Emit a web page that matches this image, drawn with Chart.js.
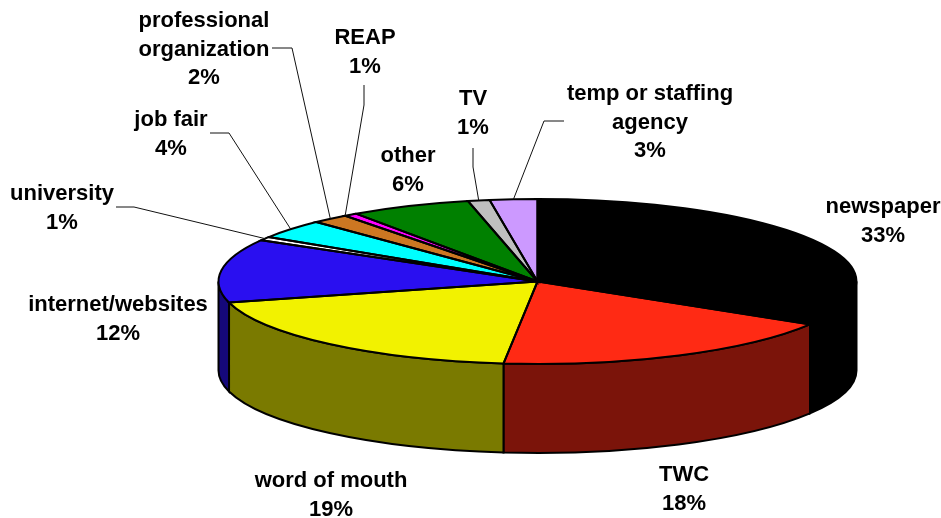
<!DOCTYPE html>
<html>
<head>
<meta charset="utf-8">
<title>Job sources</title>
<script src="https://cdn.jsdelivr.net/npm/chart.js@4/dist/chart.umd.min.js"></script>
<style>
    html, body { margin: 0; padding: 0; background: #fff; }
    canvas { display: block; }
</style>
</head>
<body>
<canvas id="pieChart" width="941" height="518"></canvas>
<script>
const categories = ['newspaper', 'TWC', 'word of mouth', 'internet/websites', 'university', 'job fair', 'professional organization', 'REAP', 'other', 'TV', 'temp or staffing agency'];
// slice sizes, the printed percentages are rounded
const sliceValues = [33.7, 18.0, 19.2, 12.45, 0.7, 3.75, 1.9, 0.66, 6.14, 1.1, 2.4];
const percentLabels = ['33%', '18%', '19%', '12%', '1%', '4%', '2%', '1%', '6%', '1%', '3%'];

const topColors = ['#000000', '#ff2a14', '#f2f200', '#2a0ff0', '#ffffff', '#00ffff', '#cc7722', '#ff00ff', '#008000', '#bfbfbf', '#cc99ff'];
const wallColors = ['#000000', '#7b140a', '#7a7a00', '#15087a', '#7f7f7f', '#007f7f', '#663b11', '#7f007f', '#004000', '#5f5f5f', '#664c7f'];

// layout of the label text, one entry per category
const labelLines = [['newspaper'], ['TWC'], ['word of mouth'], ['internet/websites'], ['university'], ['job fair'], ['professional', 'organization'], ['REAP'], ['other'], ['TV'], ['temp or staffing', 'agency']];
const labelCenterX = [883, 684, 331, 118, 62, 171, 204, 365, 408, 473, 650];
const labelFirstY = [207, 475, 481, 305, 194, 120, 21, 38, 156, 99, 94];

// leader lines: elbow points, the end on the pie comes from the slice itself
// (share = how far along the slice's edge the line lands)
const leaders = {
    4: { points: [[116, 207], [134, 207]], share: 0.5 },
    5: { points: [[210, 133], [229, 133]], share: 0.5 },
    6: { points: [[272, 48], [292, 48]], share: 0.5 },
    7: { points: [[364, 85], [364, 105]], share: 0 },
    9: { points: [[473, 148], [473, 167]], share: 0.5 },
    10: { points: [[564, 121], [544, 121]], share: 0.5 }
};

const centerX = 537.5;
const centerY = 281.5;
const radiusX = 319;
const radiusY = 82.5;
const depth = 89;
const outline = 2;
const lineHeight = 28.7;

function sliceOutline(ctx, arc) {
    ctx.beginPath();
    ctx.moveTo(centerX, centerY);
    ctx.ellipse(centerX, centerY, radiusX, radiusY, 0, arc.startAngle, arc.endAngle);
    ctx.closePath();
    ctx.stroke();
}

const tiltedPie = {
    id: 'tiltedPie',
    beforeDatasetsDraw(chart) {
        const ctx = chart.ctx;
        const arcs = chart.getDatasetMeta(0).data;

        // side wall, only the front half of the pie can be seen
        arcs.forEach((arc, i) => {
            const from = Math.max(arc.startAngle, 0);
            const to = Math.min(arc.endAngle, Math.PI);
            if (to <= from) return;
            ctx.beginPath();
            ctx.ellipse(centerX, centerY, radiusX, radiusY, 0, from, to);
            ctx.ellipse(centerX, centerY + depth, radiusX, radiusY, 0, to, from, true);
            ctx.closePath();
            ctx.fillStyle = wallColors[i];
            ctx.fill();
            ctx.strokeStyle = '#000';
            ctx.lineWidth = outline;
            ctx.stroke();
        });

        // squash the library's round pie into the ellipse
        const first = arcs[0];
        ctx.save();
        ctx.translate(centerX, centerY);
        ctx.scale(radiusX / first.outerRadius, radiusY / first.outerRadius);
        ctx.translate(-first.x, -first.y);
    },
    afterDatasetsDraw(chart) {
        const ctx = chart.ctx;
        ctx.restore();
        const arcs = chart.getDatasetMeta(0).data;

        ctx.strokeStyle = '#000';
        ctx.lineWidth = outline;
        arcs.forEach(arc => sliceOutline(ctx, arc));

        // leader lines
        ctx.lineWidth = 1;
        ctx.strokeStyle = '#111';
        Object.keys(leaders).forEach(key => {
            const arc = arcs[key];
            const leader = leaders[key];
            const angle = arc.startAngle + (arc.endAngle - arc.startAngle) * leader.share;
            ctx.beginPath();
            ctx.moveTo(leader.points[0][0], leader.points[0][1]);
            ctx.lineTo(leader.points[1][0], leader.points[1][1]);
            ctx.lineTo(centerX + radiusX * Math.cos(angle), centerY + radiusY * Math.sin(angle));
            ctx.stroke();
        });

        // labels
        ctx.fillStyle = '#000';
        ctx.font = 'bold 22px "Liberation Sans", Arial, sans-serif';
        ctx.textAlign = 'center';
        ctx.textBaseline = 'middle';
        categories.forEach((name, i) => {
            const lines = labelLines[i].concat(percentLabels[i]);
            lines.forEach((text, n) => {
                ctx.fillText(text, labelCenterX[i], labelFirstY[i] + n * lineHeight);
            });
        });
    }
};

new Chart(document.getElementById('pieChart'), {
    type: 'pie',
    data: {
        labels: categories,
        datasets: [{
            data: sliceValues,
            backgroundColor: topColors,
            borderWidth: 0,
            clip: false
        }]
    },
    options: {
        responsive: false,
        animation: false,
        events: [],
        plugins: {
            legend: { display: false },
            tooltip: { enabled: false }
        }
    },
    plugins: [tiltedPie]
});
</script>
</body>
</html>
